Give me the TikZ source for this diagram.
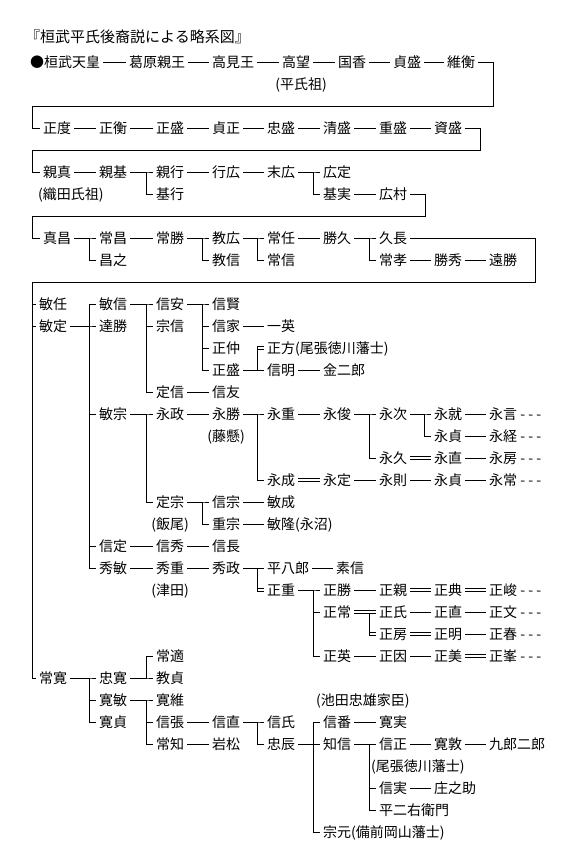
\documentclass[tikz,border=0pt]{standalone}
\usepackage{fontspec}
\setmainfont{Noto Sans CJK JP}
\usetikzlibrary{positioning}

\begin{document}
\begin{tikzpicture}[
  x=1pt, y=-1pt,
  font=\fontsize{14}{16}\selectfont,
  person/.style={anchor=west, inner xsep=3pt, inner ysep=0pt,
                 text height=12pt, text depth=1.5pt},
  note/.style={person},
  link/.style={draw=black, line width=0.9pt},
  adopt/.style={draw=black, line width=0.9pt, double=white, double distance=2pt}]

\path[fill=white, use as bounding box] (0,0) rectangle (581,860);

% ---------- title ----------
\node[person, font=\fontsize{15}{17}\selectfont] (title) at (22,37) {『桓武平氏後裔説による略系図』};

% ---------- row 1 ----------
\node[person] (kanmu) at (27,62) {●桓武天皇};
\node[person] (kadowara) at (126,62) {葛原親王};
\node[person] (takami) at (209,62) {高見王};
\node[person] (takamochi) at (279,62) {高望};
\node[person] (kunika) at (335,62) {国香};
\node[person] (sadamori) at (390,62) {貞盛};
\node[person] (korehira) at (444,62) {維衡};
\node[note, below=8.5pt of takamochi, xshift=5pt] (heishiso) {(平氏祖)};

% ---------- row 2 ----------
\node[person] (masanori) at (40,128) {正度};
\node[person] (masahira) at (96,128) {正衡};
\node[person] (masamoriA) at (153,128) {正盛};
\node[person] (sadamasa) at (209,128) {貞正};
\node[person] (tadamori) at (264,128) {忠盛};
\node[person] (kiyomori) at (320,128) {清盛};
\node[person] (shigemori) at (376,128) {重盛};
\node[person] (sukemori) at (431,128) {資盛};

% ---------- row 3 ----------
\node[person] (chikazane) at (40,172) {親真};
\node[person] (chikamoto) at (96,172) {親基};
\node[person] (chikayuki) at (153,172) {親行};
\node[person] (yukihiro) at (209,172) {行広};
\node[person] (suehiro) at (264,172) {末広};
\node[person] (hirosada) at (320,172) {広定};
\node[note] (odaso) at (35,194) {(織田氏祖)};
\node[person] (motoyuki) at (153,194) {基行};
\node[person] (motozane) at (320,194) {基実};
\node[person] (hiromura) at (376,194) {広村};

% ---------- row 4 ----------
\node[person] (masamasa) at (40,238) {真昌};
\node[person] (tsunemasa) at (96,238) {常昌};
\node[person] (tsunekatsu) at (153,238) {常勝};
\node[person] (norihiro) at (209,238) {教広};
\node[person] (tsuneto) at (264,238) {常任};
\node[person] (katsuhisa) at (320,238) {勝久};
\node[person] (hisanaga) at (376,238) {久長};
\node[person] (masayuki) at (96,260) {昌之};
\node[person] (norinobu) at (209,260) {教信};
\node[person] (tsunenobu) at (264,260) {常信};
\node[person] (tsunetaka) at (376,260) {常孝};
\node[person] (katsuhide) at (431,260) {勝秀};
\node[person] (tokatsu) at (486,260) {遠勝};

% ---------- toshisada line ----------
\node[person] (toshito) at (36,304) {敏任};
\node[person] (toshinobu) at (96,304) {敏信};
\node[person] (nobuyasu) at (153,304) {信安};
\node[person] (nobukata) at (209,304) {信賢};
\node[person] (toshisada) at (36,326) {敏定};
\node[person] (tatsukatsu) at (96,326) {達勝};
\node[person] (munenobu) at (153,326) {宗信};
\node[person] (nobuie) at (209,326) {信家};
\node[person] (kazuhide) at (264,326) {一英};
\node[person] (masanaka) at (209,348) {正仲};
\node[person] (masakata) at (264,348) {正方(尾張徳川藩士)};
\node[person] (masamoriB) at (209,370) {正盛};
\node[person] (nobuaki) at (264,370) {信明};
\node[person] (kinjiro) at (320,370) {金二郎};
\node[person] (sadanobu) at (153,392) {定信};
\node[person] (nobutomo) at (209,392) {信友};

% ---------- toshimune line ----------
\node[person] (toshimune) at (96,414) {敏宗};
\node[person] (nagamasa) at (153,414) {永政};
\node[person] (nagakatsu) at (209,414) {永勝};
\node[person] (nagashige) at (264,414) {永重};
\node[person] (nagatoshi) at (320,414) {永俊};
\node[person] (nagatsugu) at (376,414) {永次};
\node[person] (nagayuki) at (431,414) {永就};
\node[person] (nagakoto) at (486,414) {永言 - - -};
\node[note, below=8.5pt of nagakatsu] (fujikake) {(藤懸)};
\node[person] (nagasadaA) at (431,436) {永貞};
\node[person] (nagatsuneA) at (486,436) {永経 - - -};
\node[person] (nagahisa) at (376,458) {永久};
\node[person] (naganao) at (431,458) {永直};
\node[person] (nagafusa) at (486,458) {永房 - - -};
\node[person] (naganari) at (264,480) {永成};
\node[person] (nagasadaB) at (320,480) {永定};
\node[person] (naganori) at (376,480) {永則};
\node[person] (nagasadaC) at (431,480) {永貞};
\node[person] (nagatsuneB) at (486,480) {永常 - - -};
\node[person] (munesada) at (153,502) {定宗};
\node[person] (nobumune) at (209,502) {信宗};
\node[person] (toshinari) at (264,502) {敏成};
\node[note, below=8.5pt of munesada] (iio) {(飯尾)};
\node[person] (shigemune) at (209,524) {重宗};
\node[person] (toshitaka) at (264,524) {敏隆(永沼)};

% ---------- nobusada / hidetoshi line ----------
\node[person] (nobusada) at (96,546) {信定};
\node[person] (nobuhide) at (153,546) {信秀};
\node[person] (nobunaga) at (209,546) {信長};
\node[person] (hidetoshi) at (96,568) {秀敏};
\node[person] (hideshige) at (153,568) {秀重};
\node[person] (hidemasa) at (209,568) {秀政};
\node[person] (heihachiro) at (264,568) {平八郎};
\node[person] (motonobu) at (333,568) {素信};
\node[note, below=8.5pt of hideshige] (tsuda) {(津田)};
\node[person] (masashige) at (264,590) {正重};
\node[person] (masakatsu) at (320,590) {正勝};
\node[person] (masachika) at (376,590) {正親};
\node[person] (masanoriB) at (431,590) {正典};
\node[person] (masataka) at (486,590) {正峻 - - -};
\node[person] (masatsune) at (320,612) {正常};
\node[person] (masauji) at (376,612) {正氏};
\node[person] (masanao) at (431,612) {正直};
\node[person] (masafumi) at (486,612) {正文 - - -};
\node[person] (masafusa) at (376,634) {正房};
\node[person] (masaaki) at (431,634) {正明};
\node[person] (masaharu) at (486,634) {正春 - - -};
\node[person] (masahide) at (320,656) {正英};
\node[person] (masayori) at (376,656) {正因};
\node[person] (masayoshi) at (431,656) {正美};
\node[person] (masamine) at (486,656) {正峯 - - -};

% ---------- tsunehiro line ----------
\node[person] (tsunemichi) at (153,656) {常適};
\node[person] (tsunehiro) at (36,678) {常寛};
\node[person] (tadahiro) at (96,678) {忠寛};
\node[person] (norisada) at (153,678) {教貞};
\node[person] (hirotoshi) at (96,700) {寛敏};
\node[person] (hirokore) at (153,700) {寛維};
\node[note] (ikeda) at (313,700) {(池田忠雄家臣)};
\node[person] (hirosadaB) at (96,722) {寛貞};
\node[person] (nobuharu) at (153,722) {信張};
\node[person] (nobunao) at (209,722) {信直};
\node[person] (nobuuji) at (264,722) {信氏};
\node[person] (nobutsugu) at (320,722) {信番};
\node[person] (hirozane) at (376,722) {寛実};
\node[person] (tsunetomo) at (153,744) {常知};
\node[person] (iwamatsu) at (209,744) {岩松};
\node[person] (tadatoki) at (264,744) {忠辰};
\node[person] (tomonobu) at (320,744) {知信};
\node[person] (nobumasa) at (376,744) {信正};
\node[person] (hiroatsu) at (431,744) {寛敦};
\node[person] (kurojiro) at (486,744) {九郎二郎};
\node[note] (owari) at (368,766) {(尾張徳川藩士)};
\node[person] (nobuzane) at (376,788) {信実};
\node[person] (shonosuke) at (431,788) {庄之助};
\node[person] (heijiemon) at (376,810) {平二右衛門};
\node[person] (munemoto) at (320,832) {宗元(備前岡山藩士)};

% ---------- turn coordinates ----------
\coordinate (turn1r) at (493,106);
\coordinate (turn1l) at (32,106);
\coordinate (turn2r) at (480,150);
\coordinate (turn2l) at (32,150);
\coordinate (turn3r) at (425,216);
\coordinate (turn3l) at (32,216);
\coordinate (turn4r) at (535,282);
\coordinate (turn4l) at (32,282);

% ---------- edges: rows 1-4 ----------
\draw[link] (kanmu.east) -- (kadowara.west);
\draw[link] (kadowara.east) -- (takami.west);
\draw[link] (takami.east) -- (takamochi.west);
\draw[link] (takamochi.east) -- (kunika.west);
\draw[link] (kunika.east) -- (sadamori.west);
\draw[link] (sadamori.east) -- (korehira.west);
\draw[link] (korehira.east) -| (turn1r) -- (turn1l) |- (masanori.west);
\draw[link] (masanori.east) -- (masahira.west);
\draw[link] (masahira.east) -- (masamoriA.west);
\draw[link] (masamoriA.east) -- (sadamasa.west);
\draw[link] (sadamasa.east) -- (tadamori.west);
\draw[link] (tadamori.east) -- (kiyomori.west);
\draw[link] (kiyomori.east) -- (shigemori.west);
\draw[link] (shigemori.east) -- (sukemori.west);
\draw[link] (sukemori.east) -| (turn2r) -- (turn2l) |- (chikazane.west);
\draw[link] (chikazane.east) -- (chikamoto.west);
\draw[link] (chikamoto.east) -| ([xshift=-7pt]chikayuki.west) -- (chikayuki.west);
\draw[link] (chikamoto.east) -| ([xshift=-7pt]motoyuki.west) -- (motoyuki.west);
\draw[link] (chikayuki.east) -- (yukihiro.west);
\draw[link] (yukihiro.east) -- (suehiro.west);
\draw[link] (suehiro.east) -| ([xshift=-7pt]hirosada.west) -- (hirosada.west);
\draw[link] (suehiro.east) -| ([xshift=-7pt]motozane.west) -- (motozane.west);
\draw[link] (motozane.east) -- (hiromura.west);
\draw[link] (hiromura.east) -| (turn3r) -- (turn3l) |- (masamasa.west);
\draw[link] (masamasa.east) -| ([xshift=-7pt]tsunemasa.west) -- (tsunemasa.west);
\draw[link] (masamasa.east) -| ([xshift=-7pt]masayuki.west) -- (masayuki.west);
\draw[link] (tsunemasa.east) -- (tsunekatsu.west);
\draw[link] (tsunekatsu.east) -| ([xshift=-7pt]norihiro.west) -- (norihiro.west);
\draw[link] (tsunekatsu.east) -| ([xshift=-7pt]norinobu.west) -- (norinobu.west);
\draw[link] (norihiro.east) -| ([xshift=-7pt]tsuneto.west) -- (tsuneto.west);
\draw[link] (norihiro.east) -| ([xshift=-7pt]tsunenobu.west) -- (tsunenobu.west);
\draw[link] (tsuneto.east) -- (katsuhisa.west);
\draw[link] (katsuhisa.east) -| ([xshift=-7pt]hisanaga.west) -- (hisanaga.west);
\draw[link] (katsuhisa.east) -| ([xshift=-7pt]tsunetaka.west) -- (tsunetaka.west);
\draw[link] (tsunetaka.east) -- (katsuhide.west);
\draw[link] (katsuhide.east) -- (tokatsu.west);
\draw[link] (hisanaga.east) -| (turn4r) -- (turn4l) |- (tsunehiro.west);
\draw[link] (turn4l) |- (toshito.west);
\draw[link] (turn4l) |- (toshisada.west);

% ---------- edges: toshisada's sons ----------
\draw[link] (toshisada.east) -| ([xshift=-7pt]toshinobu.west) -- (toshinobu.west);
\draw[link] (toshisada.east) -| ([xshift=-7pt]tatsukatsu.west) -- (tatsukatsu.west);
\draw[link] (toshisada.east) -| ([xshift=-7pt]toshimune.west) -- (toshimune.west);
\draw[link] (toshisada.east) -| ([xshift=-7pt]nobusada.west) -- (nobusada.west);
\draw[link] (toshisada.east) -| ([xshift=-7pt]hidetoshi.west) -- (hidetoshi.west);
\draw[link] (toshinobu.east) -| ([xshift=-7pt]nobuyasu.west) -- (nobuyasu.west);
\draw[link] (toshinobu.east) -| ([xshift=-7pt]munenobu.west) -- (munenobu.west);
\draw[link] (toshinobu.east) -| ([xshift=-7pt]sadanobu.west) -- (sadanobu.west);
\draw[link] (nobuyasu.east) -| ([xshift=-7pt]nobukata.west) -- (nobukata.west);
\draw[link] (nobuyasu.east) -| ([xshift=-7pt]nobuie.west) -- (nobuie.west);
\draw[link] (nobuyasu.east) -| ([xshift=-7pt]masanaka.west) -- (masanaka.west);
\draw[link] (nobuyasu.east) -| ([xshift=-7pt]masamoriB.west) -- (masamoriB.west);
\draw[link] (nobuie.east) -- (kazuhide.west);
\draw[adopt] ([xshift=-7pt]masakata.west) -- (masakata.west);
\draw[link] (masamoriB.east) -- (nobuaki.west);
\draw[link] ([xshift=-7pt]nobuaki.west) -- ([xshift=-7pt,yshift=1.45pt]masakata.west);
\draw[link] (nobuaki.east) -- (kinjiro.west);
\draw[link] (sadanobu.east) -- (nobutomo.west);

% ---------- edges: toshimune ----------
\draw[link] (toshimune.east) -| ([xshift=-7pt]nagamasa.west) -- (nagamasa.west);
\draw[link] (toshimune.east) -| ([xshift=-7pt]munesada.west) -- (munesada.west);
\draw[link] (nagamasa.east) -- (nagakatsu.west);
\draw[link] (nagakatsu.east) -| ([xshift=-7pt]nagashige.west) -- (nagashige.west);
\draw[link] (nagakatsu.east) -| ([xshift=-7pt]naganari.west) -- (naganari.west);
\draw[link] (nagashige.east) -- (nagatoshi.west);
\draw[link] (nagatoshi.east) -| ([xshift=-7pt]nagatsugu.west) -- (nagatsugu.west);
\draw[link] (nagatoshi.east) -| ([xshift=-7pt]nagahisa.west) -- (nagahisa.west);
\draw[link] (nagatsugu.east) -| ([xshift=-7pt]nagayuki.west) -- (nagayuki.west);
\draw[link] (nagatsugu.east) -| ([xshift=-7pt]nagasadaA.west) -- (nagasadaA.west);
\draw[link] (nagayuki.east) -- (nagakoto.west);
\draw[link] (nagasadaA.east) -- (nagatsuneA.west);
\draw[adopt] (nagahisa.east) -- (naganao.west);
\draw[link] (naganao.east) -- (nagafusa.west);
\draw[adopt] (naganari.east) -- (nagasadaB.west);
\draw[link] (nagasadaB.east) -- (naganori.west);
\draw[link] (naganori.east) -- (nagasadaC.west);
\draw[link] (nagasadaC.east) -- (nagatsuneB.west);
\draw[link] (munesada.east) -| ([xshift=-7pt]nobumune.west) -- (nobumune.west);
\draw[link] (munesada.east) -| ([xshift=-7pt]shigemune.west) -- (shigemune.west);
\draw[link] (nobumune.east) -- (toshinari.west);
\draw[link] (shigemune.east) -- (toshitaka.west);

% ---------- edges: nobusada / hidetoshi ----------
\draw[link] (nobusada.east) -- (nobuhide.west);
\draw[link] (nobuhide.east) -- (nobunaga.west);
\draw[link] (hidetoshi.east) -- (hideshige.west);
\draw[link] (hideshige.east) -- (hidemasa.west);
\draw[link] (hidemasa.east) -- (heihachiro.west);
\draw[link] (heihachiro.east) -- (motonobu.west);
\draw[adopt] ([xshift=-7pt]masashige.west) -- (masashige.west);
\draw[link] ([xshift=-7pt]heihachiro.west) -- ([xshift=-7pt,yshift=-1.45pt]masashige.west);
\draw[link] (masashige.east) -| ([xshift=-7pt]masakatsu.west) -- (masakatsu.west);
\draw[link] (masashige.east) -| ([xshift=-7pt]masatsune.west) -- (masatsune.west);
\draw[link] (masashige.east) -| ([xshift=-7pt]masahide.west) -- (masahide.west);
\draw[link] (masakatsu.east) -- (masachika.west);
\draw[adopt] (masachika.east) -- (masanoriB.west);
\draw[adopt] (masanoriB.east) -- (masataka.west);
\draw[adopt] (masatsune.east) -- (masauji.west);
\draw[adopt] ([xshift=-7pt]masafusa.west) -- (masafusa.west);
\draw[link] ([xshift=-7pt,yshift=-1.45pt]masauji.west) -- ([xshift=-7pt,yshift=-1.45pt]masafusa.west);
\draw[link] (masauji.east) -- (masanao.west);
\draw[link] (masanao.east) -- (masafumi.west);
\draw[adopt] (masafusa.east) -- (masaaki.west);
\draw[link] (masaaki.east) -- (masaharu.west);
\draw[link] (masahide.east) -- (masayori.west);
\draw[link] (masayori.east) -- (masayoshi.west);
\draw[adopt] (masayoshi.east) -- (masamine.west);

% ---------- edges: tsunehiro ----------
\draw[link] (tsunehiro.east) -| ([xshift=-7pt]tadahiro.west) -- (tadahiro.west);
\draw[link] (tsunehiro.east) -| ([xshift=-7pt]hirotoshi.west) -- (hirotoshi.west);
\draw[link] (tsunehiro.east) -| ([xshift=-7pt]hirosadaB.west) -- (hirosadaB.west);
\draw[link] (tadahiro.east) -| ([xshift=-7pt]tsunemichi.west) -- (tsunemichi.west);
\draw[link] (tadahiro.east) -| ([xshift=-7pt]norisada.west) -- (norisada.west);
\draw[link] (hirotoshi.east) -| ([xshift=-7pt]hirokore.west) -- (hirokore.west);
\draw[link] (hirotoshi.east) -| ([xshift=-7pt]nobuharu.west) -- (nobuharu.west);
\draw[link] (hirotoshi.east) -| ([xshift=-7pt]tsunetomo.west) -- (tsunetomo.west);
\draw[link] (nobuharu.east) -- (nobunao.west);
\draw[link] (nobunao.east) -| ([xshift=-7pt]nobuuji.west) -- (nobuuji.west);
\draw[link] (nobunao.east) -| ([xshift=-7pt]tadatoki.west) -- (tadatoki.west);
\draw[link] (tsunetomo.east) -- (iwamatsu.west);
\draw[link] (tadatoki.east) -| ([xshift=-7pt]nobutsugu.west) -- (nobutsugu.west);
\draw[link] (tadatoki.east) -| ([xshift=-7pt]tomonobu.west) -- (tomonobu.west);
\draw[link] (tadatoki.east) -| ([xshift=-7pt]munemoto.west) -- (munemoto.west);
\draw[link] (nobutsugu.east) -- (hirozane.west);
\draw[link] (tomonobu.east) -| ([xshift=-7pt]nobumasa.west) -- (nobumasa.west);
\draw[link] (tomonobu.east) -| ([xshift=-7pt]nobuzane.west) -- (nobuzane.west);
\draw[link] (tomonobu.east) -| ([xshift=-7pt]heijiemon.west) -- (heijiemon.west);
\draw[link] (nobumasa.east) -- (hiroatsu.west);
\draw[link] (hiroatsu.east) -- (kurojiro.west);
\draw[link] (nobuzane.east) -- (shonosuke.west);
\end{tikzpicture}
\end{document}
